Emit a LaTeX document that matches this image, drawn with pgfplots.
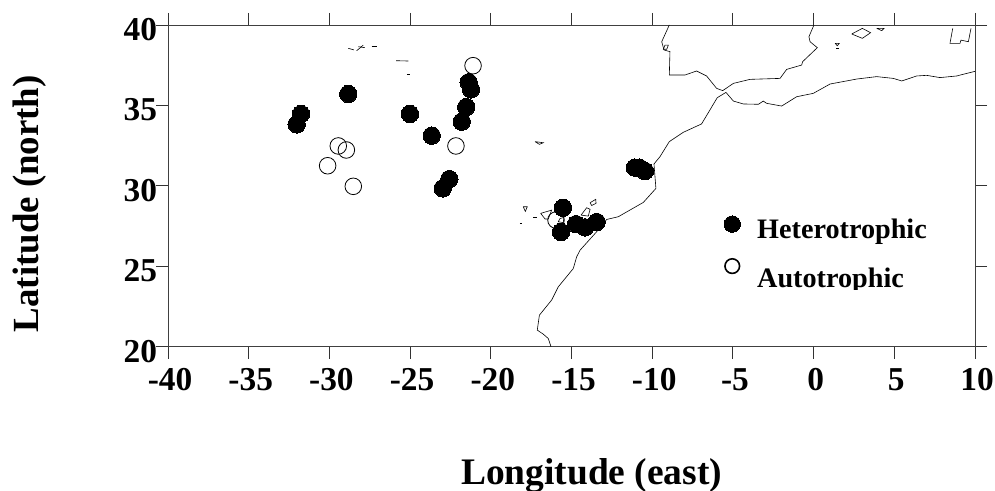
\documentclass[border=0pt]{standalone}
\usepackage{fontspec}
\usepackage{pgfplots}
\pgfplotsset{compat=1.18}
\setmainfont{Liberation Serif}
\begin{document}
\begin{tikzpicture}[x=1bp,y=1bp]
\path[use as bounding box] (0,0) rectangle (995,491);
\begin{axis}[
  at={(168bp,144.3bp)},anchor=south west,
  scale only axis,width=807bp,height=321.7bp,
  xmin=-40,xmax=10,ymin=20,ymax=40,
  xtick={-40,-35,-30,-25,-20,-15,-10,-5,0,5,10},
  xticklabels={-40,-35,-30,-25,-20,-15,-10,-5,0,5,10},
  ytick={20,25,30,35,40},
  yticklabels={20,25,30,35,40},
  tick align=outside,
  major tick length=12bp,
  axis line style={black!75,line width=0.9bp},
  tick style={black!80,line width=0.9bp},
  x tick label style={font=\fontsize{33.5}{34}\selectfont\bfseries,inner sep=0pt,outer sep=0pt,anchor=base,yshift=-32bp,xshift=2bp},
  y tick label style={font=\fontsize{33.5}{34}\selectfont\bfseries,inner sep=0pt,outer sep=0pt,anchor=east,yshift=-4.5bp,xshift=1bp},
  xticklabel pos=lower,yticklabel pos=left,
  xlabel={Longitude (east)},
  ylabel={Latitude (north)},
  xlabel style={font=\fontsize{37.6}{38}\selectfont\bfseries,at={(axis description cs:0.525,-0.429)},anchor=base,inner sep=0pt,outer sep=0pt},
  ylabel style={font=\fontsize{37}{38}\selectfont\bfseries,at={(axis description cs:-0.161,0.4445)},anchor=base,rotate=0,inner sep=0pt,outer sep=0pt},
  coast/.style={black,line width=0.6bp,no markers,forget plot},
]
% Europe
\addplot[coast] coordinates {(-8.94,40)(-9.41,38.96)(-9.27,38.45)(-8.90,38.34)(-8.94,36.89)(-7.97,36.89)(-7.25,37.14)(-6.63,36.83)(-6.01,36.06)(-5.63,35.92)(-4.97,36.37)(-3.94,36.62)(-2.08,36.68)(-1.67,37.24)(-0.74,37.51)(-0.68,37.72)(0.23,38.59)(-0.22,38.96)(-0.29,39.27)(0.02,40)};
% Africa
\addplot[coast] coordinates {(10,37.12)(8.86,36.83)(7.83,36.73)(7.0,36.87)(6.38,36.83)(5.46,36.52)(4.94,36.68)(3.91,36.79)(2.67,36.64)(1.02,36.33)(-0.02,35.75)(-1.05,35.54)(-1.98,34.96)(-2.91,35.13)(-3.12,35.27)(-3.42,35.07)(-4.35,35.09)(-4.97,35.27)(-5.43,35.81)(-5.97,35.48)(-6.94,33.85)(-8.07,33.33)(-8.94,32.75)(-9.52,31.81)(-9.89,31.36)(-9.77,29.84)(-10.55,28.97)(-12.1,28.08)(-12.82,27.91)(-13.44,27.15)(-14.47,26.0)(-14.68,25.59)(-14.89,24.86)(-15.82,23.72)(-16.23,22.9)(-16.99,21.96)(-17.12,21.03)(-16.75,20.78)(-16.44,20.51)(-16.27,20)};
% Mediterranean islands
\addplot[coast] coordinates {(2.36,39.44)(3.02,39.79)(3.53,39.52)(3.02,39.17)(2.36,39.44)};
\addplot[coast] coordinates {(3.91,39.79)(4.36,39.79)(4.22,39.65)(3.91,39.79)};
\addplot[coast] coordinates {(8.62,39.79)(8.45,38.86)(9.07,38.86)(9.13,39.06)(9.59,38.96)(9.75,39.79)};
\addplot[coast] coordinates {(1.33,38.86)(1.59,38.86)(1.47,38.71)(1.33,38.86)};
\addplot[coast] coordinates {(1.39,38.55)(1.59,38.55)};
\addplot[coast] coordinates {(-9.21,38.75)(-9,38.75)(-9.1,38.49)(-9.31,38.49)(-9.21,38.75)};
% Madeira
\addplot[coast] coordinates {(-17.26,32.75)(-16.75,32.68)(-16.99,32.58)(-17.26,32.75)};
% Canaries
\addplot[coast] coordinates {(-17.99,28.7)(-17.74,28.7)(-17.86,28.41)(-17.99,28.7)};
\addplot[coast] coordinates {(-16.91,28.29)(-16.23,28.49)(-16.44,27.94)(-16.64,27.94)(-16.91,28.29)};
\addplot[coast] coordinates {(-17.37,28.04)(-17.16,28.04)};
\addplot[coast,line width=1.6bp] coordinates {(-18.2,27.67)(-18.08,27.67)};
\addplot[coast] coordinates {(-15.71,27.97)(-15.47,28.04)(-15.51,27.71)(-15.82,27.77)(-15.71,27.97)};
\addplot[coast] coordinates {(-13.85,28.95)(-13.5,29.16)(-13.48,28.91)(-13.75,28.78)(-13.85,28.95)};
\addplot[coast] coordinates {(-14.41,28.18)(-14.06,28.64)(-13.85,28.54)(-13.96,28.12)(-14.41,28.18)};
% Azores
\addplot[coast] coordinates {(-28.83,38.55)(-28.48,38.45)};
\addplot[coast] coordinates {(-28.31,38.40)(-27.9,38.75)};
\addplot[coast] coordinates {(-28.2,38.65)(-27.8,38.59)};
\addplot[coast] coordinates {(-27.38,38.65)(-27.03,38.65)};
\addplot[coast] coordinates {(-25.87,37.78)(-25.11,37.76)};
\addplot[coast] coordinates {(-25.2,36.95)(-25.0,36.95)};
% Autotrophic
\addplot[only marks,mark=o,mark size=8.3bp,mark options={black,line width=0.8bp,fill=none}] coordinates {
(-21.1,37.47)(-22.16,32.48)(-29.45,32.48)(-28.95,32.23)(-30.11,31.25)(-28.52,29.97)(-15.96,27.87)};
% Heterotrophic
\addplot[only marks,mark=*,mark size=8.7bp,mark options={black,fill=black,line width=0pt}] coordinates {
(-32.03,33.82)(-31.76,34.47)(-28.83,35.71)(-25.01,34.47)(-23.66,33.12)(-21.8,33.99)(-21.52,34.9)(-21.23,36.0)(-21.37,36.44)(-22.57,30.42)(-22.98,29.84)(-15.53,28.64)(-15.65,27.13)(-14.72,27.62)(-14.16,27.42)(-13.44,27.75)(-11.07,31.13)(-10.8,31.13)(-10.45,30.92)};
% Legend markers
\addplot[only marks,mark=*,mark size=8.2bp,mark options={black,fill=black,line width=0pt}] coordinates {(-5.04,27.62)};
\addplot[only marks,mark=o,mark size=7.3bp,mark options={black,line width=1.6bp,fill=none}] coordinates {(-5.04,25.01)};
\node[anchor=base west,inner sep=0pt,font=\fontsize{28.3}{29}\selectfont\bfseries] at (axis cs:-3.51,26.75) {Heterotrophic};
\node[anchor=base west,inner sep=0pt,font=\fontsize{28.3}{29}\selectfont\bfseries] at (axis cs:-3.51,23.71) {Autotrophic};
\fill[white] (axis cs:-3.7,23.55) rectangle (axis cs:3,23.0);
\end{axis}
\end{tikzpicture}
\end{document}
